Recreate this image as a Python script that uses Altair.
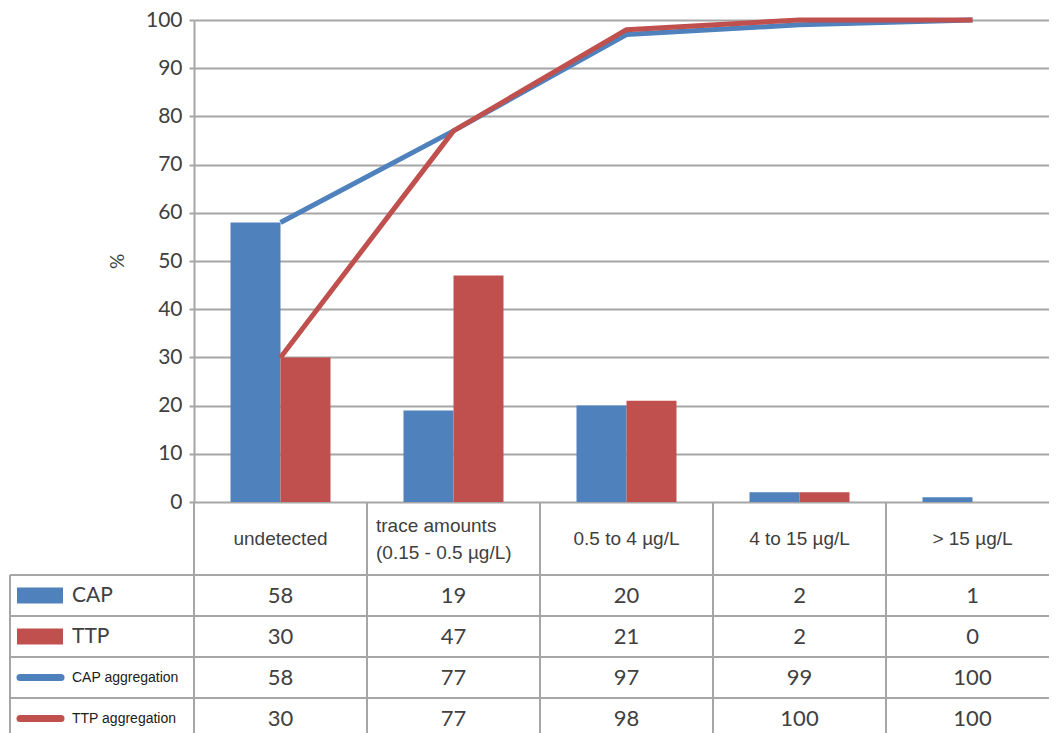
import altair as alt
import pandas as pd

# ---------------- data ----------------
categories = ["undetected", "trace amounts\n(0.15 - 0.5 µg/L)", "0.5 to 4 µg/L", "4 to 15 µg/L", "> 15 µg/L"]
cap_values = [58, 19, 20, 2, 1]
ttp_values = [30, 47, 21, 2, 0]
cap_aggregation = [58, 77, 97, 99, 100]
ttp_aggregation = [30, 77, 98, 100, 100]
row_labels = ["CAP", "TTP", "CAP aggregation", "TTP aggregation"]
y_ticks = [0, 10, 20, 30, 40, 50, 60, 70, 80, 90, 100]

# ---------------- style / layout ----------------
BLUE = "#4F81BD"
RED = "#C0504D"
GRID = "#A6A6A6"
INK = "#404040"

PLOT_W = 865
PLOT_H = 482
CAT_PX = PLOT_W / len(categories)
LEFT, TOP = 186, 12
SVG_W, SVG_H = 1041, 725
HEADER_PX = 73
ROW_PX = 41
LABEL_COL_PX = 184
BAR_PX = 50
TABLE_END_PX = SVG_H - TOP - PLOT_H + 10


def xu(px):
    return px / CAT_PX


def yu(px):
    return -px * 100.0 / PLOT_H


xs = alt.Scale(domain=[0, len(categories)], nice=False, zero=False)
ys = alt.Scale(domain=[0, 100], nice=False, zero=False)

y_axis = alt.Axis(values=y_ticks, title="%", grid=True, gridColor=GRID, gridWidth=2,
                  domainColor=GRID, domainWidth=2, tickColor=GRID, tickWidth=2, tickSize=5,
                  labelFont="Lato", labelFontSize=21, labelColor=INK, labelPadding=7,
                  titleFont="Lato", titleFontSize=19, titleFontWeight="normal", titleColor=INK,
                  titlePadding=18, labelOverlap=False)


def X(f="x"):
    return alt.X(f"{f}:Q", scale=xs, axis=None)


def Y(f="y"):
    return alt.Y(f"{f}:Q", scale=ys, axis=y_axis)


# ---------------- tables ----------------
bw = xu(BAR_PX)
bars = []
for i, c in enumerate(categories):
    bars.append({"series": "CAP", "x": i + 0.5 - bw, "x2": i + 0.5, "y": cap_values[i]})
    bars.append({"series": "TTP", "x": i + 0.5, "x2": i + 0.5 + bw, "y": ttp_values[i]})
bars_df = pd.DataFrame(bars)

cap_line_df = pd.DataFrame({"x": [i + 0.5 for i in range(len(categories))], "y": cap_aggregation})
ttp_line_df = pd.DataFrame({"x": [i + 0.5 for i in range(len(categories))], "y": ttp_aggregation})

row_series = [cap_values, ttp_values, cap_aggregation, ttp_aggregation]
cells = []
for r, vals in enumerate(row_series):
    yc = yu(HEADER_PX + ROW_PX * (r + 0.5))
    for i, v in enumerate(vals):
        cells.append({"x": i + 0.5, "y": yc, "t": str(v)})
cells_df = pd.DataFrame(cells)

head_single = pd.DataFrame([{"x": i + 0.5, "y": yu(HEADER_PX / 2), "t": c}
                            for i, c in enumerate(categories) if "\n" not in c])
head_multi = pd.DataFrame([{"x": i + xu(9), "y": yu(HEADER_PX / 2), "t": c}
                           for i, c in enumerate(categories) if "\n" in c])

lab_x0 = -LABEL_COL_PX
labels_df = pd.DataFrame([{"x": xu(lab_x0 + 62), "y": yu(HEADER_PX + ROW_PX * (r + 0.5)), "t": lab,
                           "big": r < 2}
                          for r, lab in enumerate(row_labels)])
big_labels = labels_df[labels_df["big"]]
small_labels = labels_df[~labels_df["big"]]

swatch_rect_df = pd.DataFrame([{"series": row_labels[r], "x": xu(lab_x0 + 7), "x2": xu(lab_x0 + 53),
                                "y": yu(HEADER_PX + ROW_PX * (r + 0.5) - 8),
                                "y2": yu(HEADER_PX + ROW_PX * (r + 0.5) + 8)} for r in range(2)])
swatch_line_df = pd.DataFrame([{"series": row_labels[r], "x": xu(lab_x0 + 10), "x2": xu(lab_x0 + 51),
                                "y": yu(HEADER_PX + ROW_PX * (r + 0.5))} for r in range(2, 4)])

vrules = [{"x": float(i), "y": 0.0, "y2": yu(TABLE_END_PX)} for i in range(len(categories) + 1)]
vrules.append({"x": xu(lab_x0), "y": yu(HEADER_PX), "y2": yu(TABLE_END_PX)})
vrules_df = pd.DataFrame(vrules)
hrules_df = pd.DataFrame([{"x": xu(lab_x0), "x2": float(len(categories)), "y": yu(HEADER_PX + ROW_PX * k)}
                          for k in range(4)])

color_scale = alt.Scale(domain=["CAP", "TTP", "CAP aggregation", "TTP aggregation"],
                        range=[BLUE, RED, BLUE, RED])

# ---------------- layers ----------------
bars_layer = alt.Chart(bars_df).mark_rect().encode(
    x=X(), x2="x2:Q",
    y=Y(), y2=alt.datum(0),
    color=alt.Color("series:N", scale=color_scale, legend=None),
)

vr_layer = alt.Chart(vrules_df).mark_rule(color=GRID, strokeWidth=2).encode(x=X(), y=Y(), y2="y2:Q")
hr_layer = alt.Chart(hrules_df).mark_rule(color=GRID, strokeWidth=2).encode(x=X(), x2="x2:Q", y=Y())

cap_line = alt.Chart(cap_line_df).mark_line(color=BLUE, strokeWidth=5, strokeJoin="round").encode(x=X(), y=Y())
ttp_line = alt.Chart(ttp_line_df).mark_line(color=RED, strokeWidth=5, strokeJoin="round").encode(x=X(), y=Y())

cells_layer = alt.Chart(cells_df).mark_text(font="Lato", fontSize=22, color=INK, align="center",
                                            baseline="middle").encode(x=X(), y=Y(), text="t:N")
head1_layer = alt.Chart(head_single).mark_text(font="Liberation Sans", fontSize=19, color=INK,
                                               align="center", baseline="middle").encode(x=X(), y=Y(), text="t:N")
head2_layer = alt.Chart(head_multi).mark_text(font="Liberation Sans", fontSize=19, color=INK,
                                              align="left", baseline="middle", lineBreak="\n",
                                              lineHeight=27, dy=-13).encode(x=X(), y=Y(), text="t:N")
big_lab_layer = alt.Chart(big_labels).mark_text(font="Lato", fontSize=21, color=INK, align="left",
                                                baseline="middle").encode(x=X(), y=Y(), text="t:N")
small_lab_layer = alt.Chart(small_labels).mark_text(font="Liberation Sans", fontSize=14, color="#202020",
                                                    align="left", baseline="middle").encode(x=X(), y=Y(), text="t:N")
sw_rect = alt.Chart(swatch_rect_df).mark_rect().encode(
    x=X(), x2="x2:Q", y=Y(), y2="y2:Q",
    color=alt.Color("series:N", scale=color_scale, legend=None))
sw_line = alt.Chart(swatch_line_df).mark_rule(strokeWidth=7, strokeCap="round").encode(
    x=X(), x2="x2:Q", y=Y(),
    color=alt.Color("series:N", scale=color_scale, legend=None))

chart = alt.layer(
    bars_layer, vr_layer, hr_layer, cap_line, ttp_line,
    cells_layer, head1_layer, head2_layer, big_lab_layer, small_lab_layer, sw_rect, sw_line,
).properties(
    width=PLOT_W, height=PLOT_H,
    autosize=alt.AutoSizeParams(type="none"),
    padding={"left": LEFT, "top": TOP, "right": SVG_W - LEFT - PLOT_W,
             "bottom": SVG_H - TOP - PLOT_H},
    background="white",
).configure_view(strokeWidth=0)

chart.save("out.html", embed_options={"renderer": "svg", "actions": False})
